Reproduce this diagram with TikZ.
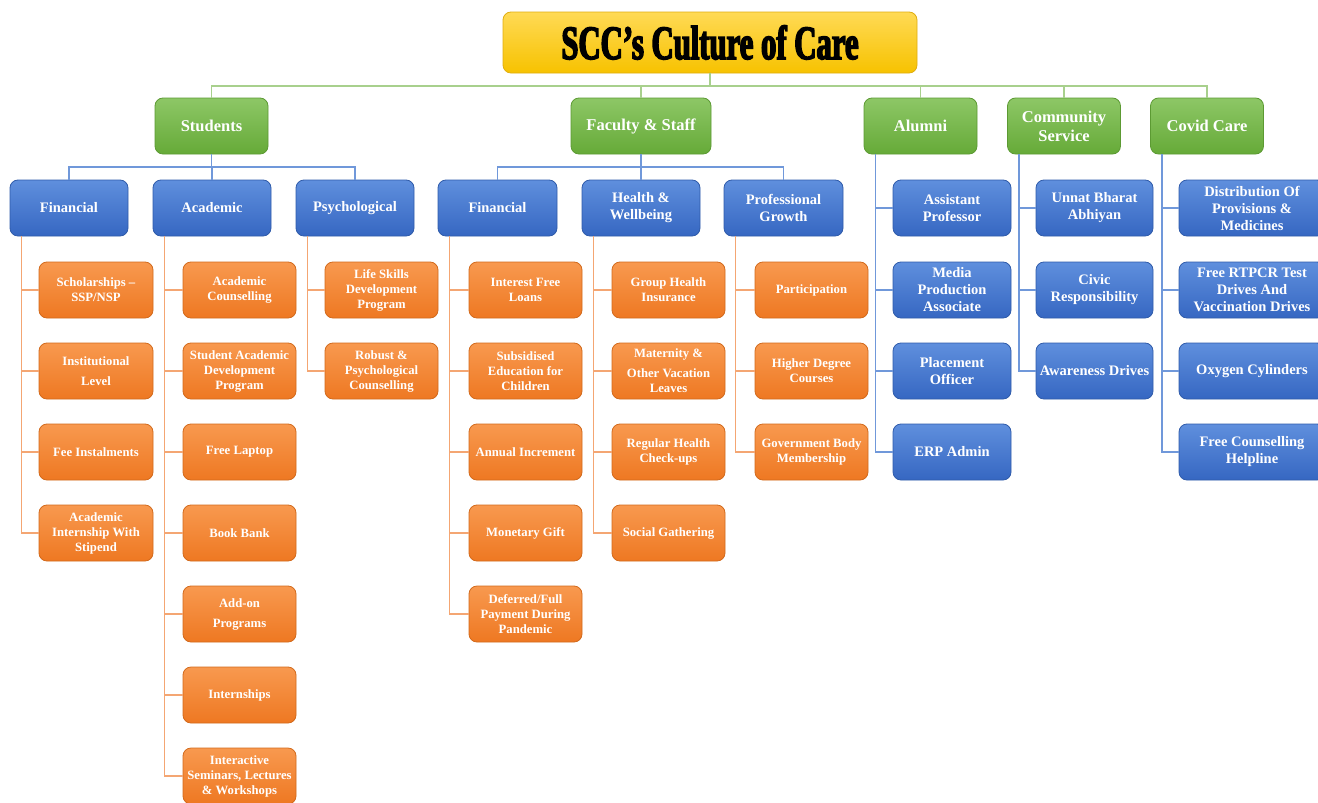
\documentclass[tikz,border=0pt]{standalone}
\usepackage{fontspec}
\setmainfont{Liberation Serif}
\newfontfamily\titlefont[FakeStretch=0.64,FakeBold=3]{Liberation Serif Bold}
\definecolor{yTop}{HTML}{FFDA55}
\definecolor{yBot}{HTML}{F7C200}
\definecolor{yBrd}{HTML}{E0AE10}
\definecolor{gTop}{HTML}{8DC766}
\definecolor{gBot}{HTML}{66AA38}
\definecolor{gBrd}{HTML}{5C9A33}
\definecolor{bTop}{HTML}{5F8FDD}
\definecolor{bBot}{HTML}{3667C2}
\definecolor{bBrd}{HTML}{2F5BAA}
\definecolor{oTop}{HTML}{F8994F}
\definecolor{oBot}{HTML}{EE7822}
\definecolor{oBrd}{HTML}{D26A1C}
\definecolor{gLine}{HTML}{A8D08D}
\definecolor{bLine}{HTML}{7098DA}
\definecolor{oLine}{HTML}{F4A673}
\tikzset{
  box/.style={rounded corners=8pt, minimum height=56pt, inner sep=0pt, align=center, text=white, line width=0.8pt},
  ttl/.style={box, minimum width=414pt, minimum height=61pt, top color=yTop, bottom color=yBot, draw=yBrd, text=black, font=\titlefont\fontsize{48}{50}\selectfont},
  grn/.style={box, minimum width=113pt, top color=gTop, bottom color=gBot, draw=gBrd, font=\bfseries\fontsize{16.5}{19}\selectfont},
  blu/.style={box, minimum width=118pt, top color=bTop, bottom color=bBot, draw=bBrd, font=\bfseries\fontsize{14.5}{17}\selectfont},
  org/.style={box, minimum width=114pt, top color=oTop, bottom color=oBot, draw=oBrd, font=\bfseries\fontsize{12.7}{15}\selectfont},
  gline/.style={draw=gLine, line width=1.3pt},
  bline/.style={draw=bLine, line width=1.3pt},
  oline/.style={draw=oLine, line width=1.3pt}
}
\begin{document}
\begin{tikzpicture}[x=1pt,y=-1pt]
\useasboundingbox (0,0) rectangle (1318,803);
\fill[white] (0,0) rectangle (1318,803);
\coordinate (gb) at (0,86);
\coordinate (bb) at (0,167);
% title
\node[ttl] (title) at (710,42.5) {SCC’s Culture of Care};
% level 1
\node[grn] (stu) at (211.5,126) {Students};
\node[grn, minimum width=140pt] (fac) at (641,126) {Faculty \& Staff};
\node[grn] (alu) at (920.5,126) {Alumni};
\node[grn] (com) at (1064,126) {Community\\Service};
\node[grn] (cov) at (1207,126) {Covid Care};
% level 2
\node[blu] (sfin) at (69,208) {Financial};
\node[blu] (saca) at (212,208) {Academic};
\node[blu] (spsy) at (355,208) {Psychological};
\node[blu, minimum width=119pt] (ffin) at (497.5,208) {Financial};
\node[blu] (fhea) at (641,208) {Health \&\\Wellbeing};
\node[blu, minimum width=119pt] (fpro) at (783.5,208) {Professional\\Growth};
% students financial
\node[org] (sfin1) at (96,290) {Scholarships –\\SSP/NSP};
\node[org] (sfin2) at (96,371) {Institutional\\[5pt]Level};
\node[org] (sfin3) at (96,452) {Fee Instalments};
\node[org] (sfin4) at (96,533) {Academic\\Internship With\\Stipend};
% students academic
\node[org, minimum width=113pt] (saca1) at (239.5,290) {Academic\\Counselling};
\node[org, minimum width=113pt] (saca2) at (239.5,371) {Student Academic\\Development\\Program};
\node[org, minimum width=113pt] (saca3) at (239.5,452) {Free Laptop};
\node[org, minimum width=113pt] (saca4) at (239.5,533) {Book Bank};
\node[org, minimum width=113pt] (saca5) at (239.5,614) {Add-on\\[5pt]Programs};
\node[org, minimum width=113pt] (saca6) at (239.5,695) {Internships};
\node[org, minimum width=113pt] (saca7) at (239.5,776) {Interactive\\Seminars, Lectures\\\& Workshops};
% students psychological
\node[org, minimum width=113pt] (spsy1) at (381.5,290) {Life Skills\\Development\\Program};
\node[org, minimum width=113pt] (spsy2) at (381.5,371) {Robust \&\\Psychological\\Counselling};
% faculty financial
\node[org, minimum width=113pt] (ffin1) at (525.5,290) {Interest Free\\Loans};
\node[org, minimum width=113pt] (ffin2) at (525.5,371) {Subsidised\\Education for\\Children};
\node[org, minimum width=113pt] (ffin3) at (525.5,452) {Annual Increment};
\node[org, minimum width=113pt] (ffin4) at (525.5,533) {Monetary Gift};
\node[org, minimum width=113pt] (ffin5) at (525.5,614) {Deferred/Full\\Payment During\\Pandemic};
% faculty health
\node[org, minimum width=113pt] (fhea1) at (668.5,290) {Group Health\\Insurance};
\node[org, minimum width=113pt] (fhea2) at (668.5,371) {Maternity \&\\[5pt]Other Vacation\\Leaves};
\node[org, minimum width=113pt] (fhea3) at (668.5,452) {Regular Health\\Check-ups};
\node[org, minimum width=113pt] (fhea4) at (668.5,533) {Social Gathering};
% faculty professional
\node[org, minimum width=113pt] (fpro1) at (811.5,290) {Participation};
\node[org, minimum width=113pt] (fpro2) at (811.5,371) {Higher Degree\\Courses};
\node[org, minimum width=113pt] (fpro3) at (811.5,452) {Government Body\\Membership};
% alumni
\node[blu] (alu1) at (952,208) {Assistant\\Professor};
\node[blu] (alu2) at (952,290) {Media\\Production\\Associate};
\node[blu] (alu3) at (952,371) {Placement\\Officer};
\node[blu] (alu4) at (952,452) {ERP Admin};
% community
\node[blu, minimum width=117pt] (com1) at (1094.5,208) {Unnat Bharat\\Abhiyan};
\node[blu, minimum width=117pt] (com2) at (1094.5,290) {Civic\\Responsibility};
\node[blu, minimum width=117pt] (com3) at (1094.5,371) {Awareness Drives};
% covid
\node[blu, minimum width=146pt] (cov1) at (1252,208) {Distribution Of\\Provisions \&\\Medicines};
\node[blu, minimum width=146pt] (cov2) at (1252,290) {Free RTPCR Test\\Drives And\\Vaccination Drives};
\node[blu, minimum width=146pt] (cov3) at (1252,371) {Oxygen Cylinders};
\node[blu, minimum width=146pt] (cov4) at (1252,452) {Free Counselling\\Helpline};
% green connectors
\draw[gline] (title.south) -- (title.south |- gb);
\draw[gline] (stu.north) |- (cov.north |- gb) -- (cov.north);
\draw[gline] (fac.north) -- (fac.north |- gb);
\draw[gline] (alu.north) -- (alu.north |- gb);
\draw[gline] (com.north) -- (com.north |- gb);
% blue connectors
\draw[bline] (stu.south) -- (stu.south |- bb);
\draw[bline] (sfin.north) |- (spsy.north |- bb) -- (spsy.north);
\draw[bline] (saca.north) -- (saca.north |- bb);
\draw[bline] (fac.south) -- (fac.south |- bb);
\draw[bline] (ffin.north) |- (fpro.north |- bb) -- (fpro.north);
\draw[bline] (fhea.north) -- (fhea.north |- bb);
% spines
\foreach \p/\n in {sfin/4, saca/7, spsy/2, ffin/5, fhea/4, fpro/3} {
  \foreach \i in {1,...,\n} {
    \draw[oline] ([xshift=12pt]\p.south west) |- (\p\i.west);
  }
}
\foreach \p/\n in {alu/4, com/3, cov/4} {
  \foreach \i in {1,...,\n} {
    \draw[bline] ([xshift=12pt]\p.south west) |- (\p\i.west);
  }
}
\end{tikzpicture}
\end{document}
